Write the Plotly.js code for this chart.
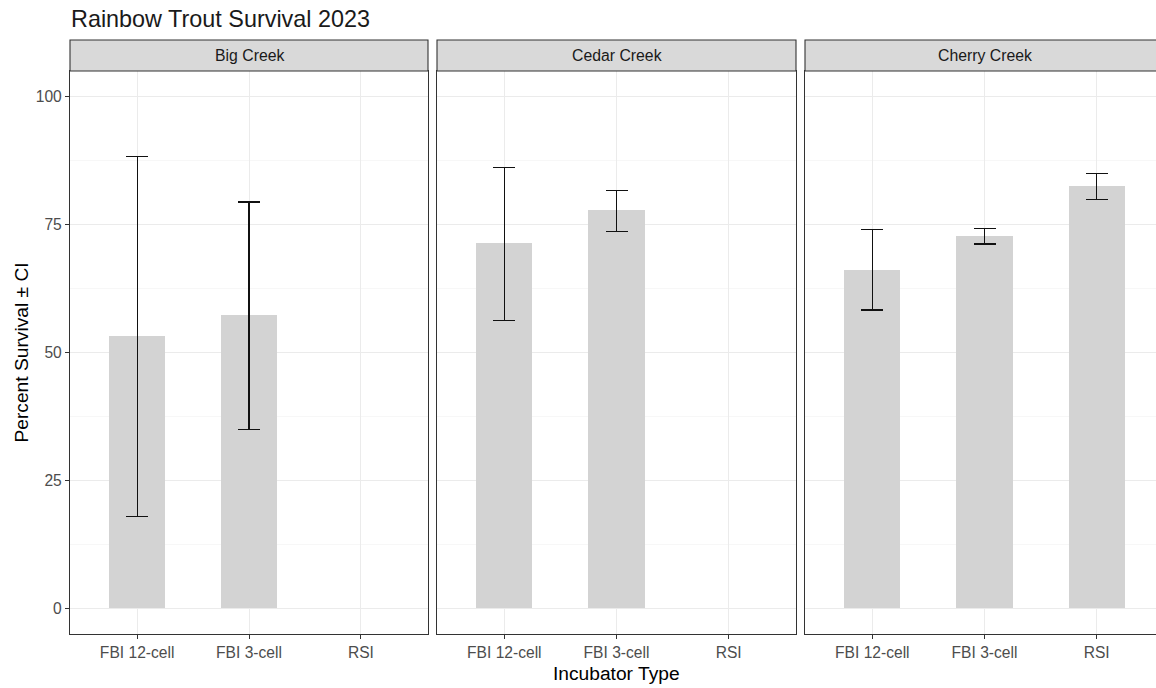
<!DOCTYPE html>
<html>
<head>
<meta charset="utf-8">
<script src="https://cdn.plot.ly/plotly-3.0.1.min.js"></script>
<style>
html,body{margin:0;padding:0;overflow:hidden;background:#fff;}
#chart{width:1166px;height:688px;}
</style>
</head>
<body>
<div id="chart"></div>
<script>
// ---- data ----
const sites = ["Big Creek", "Cedar Creek", "Cherry Creek"];
const incubators = ["FBI 12-cell", "FBI 3-cell", "RSI"];
const bigCreekMean  = [53.2, 57.4, null];
const bigCreekUpper = [88.3, 79.4, null];
const bigCreekLower = [18.0, 35.0, null];
const cedarCreekMean  = [71.3, 77.9, null];
const cedarCreekUpper = [86.1, 81.6, null];
const cedarCreekLower = [56.3, 73.6, null];
const cherryCreekMean  = [66.2, 72.8, 82.5];
const cherryCreekUpper = [74.0, 74.2, 85.0];
const cherryCreekLower = [58.3, 71.2, 79.9];
const yTicks = [0, 25, 50, 75, 100];

const means = [bigCreekMean, cedarCreekMean, cherryCreekMean];
const uppers = [bigCreekUpper, cedarCreekUpper, cherryCreekUpper];
const lowers = [bigCreekLower, cedarCreekLower, cherryCreekLower];

// ---- layout geometry (pixels) ----
const W = 1166, H = 688;
const panelX = [[70, 428], [437, 796], [805, 1164]];
const panelTop = 71, panelBottom = 634, stripTop = 40;
const FONT = "Liberation Sans, Arial, sans-serif";
const TICK_SIZE = 15.6, STRIP_SIZE = 15.8, AXIS_TITLE_SIZE = 19.2, TITLE_SIZE = 23.4;

const traces = [];
sites.forEach((s, i) => {
  const sfx = i === 0 ? "" : String(i + 1);
  const m = means[i];
  traces.push({
    type: "bar",
    x: incubators,
    y: m,
    xaxis: "x" + sfx,
    yaxis: "y" + sfx,
    width: 0.5,
    marker: {color: "#D3D3D3", line: {width: 0}},
    error_y: {
      type: "data",
      symmetric: false,
      array: m.map((v, k) => v == null ? null : uppers[i][k] - v),
      arrayminus: m.map((v, k) => v == null ? null : v - lowers[i][k]),
      color: "#111111",
      thickness: 1.1,
      width: 11
    },
    hoverinfo: "x+y",
    showlegend: false
  });
});

const layout = {
  width: W, height: H,
  margin: {l: 0, r: 0, t: 0, b: 0},
  paper_bgcolor: "#ffffff",
  plot_bgcolor: "#ffffff",
  font: {family: FONT, color: "#000"},
  title: {
    text: "Rainbow Trout Survival 2023",
    font: {family: FONT, size: TITLE_SIZE, color: "#1a1a1a"},
    x: 71 / W, xanchor: "left", xref: "paper",
    y: 1 - 19 / H, yanchor: "middle", yref: "container"
  },
  bargap: 0,
  shapes: [],
  annotations: []
};

const yDomain = [(H - panelBottom) / H, (H - panelTop) / H];
sites.forEach((s, i) => {
  const sfx = i === 0 ? "" : String(i + 1);
  const xd = [panelX[i][0] / W, panelX[i][1] / W];
  layout["xaxis" + sfx] = {
    domain: xd,
    anchor: "y" + sfx,
    type: "category",
    categoryorder: "array",
    categoryarray: incubators,
    range: [-0.6, 2.6],
    showgrid: true, gridcolor: "#EBEBEB", gridwidth: 1,
    showline: true, mirror: true, linecolor: "#333333", linewidth: 1.1,
    ticks: "outside", ticklen: 4, tickcolor: "#333333", tickwidth: 1,
    tickfont: {family: FONT, size: TICK_SIZE, color: "#4D4D4D"},
    zeroline: false, fixedrange: true
  };
  layout["yaxis" + sfx] = {
    domain: yDomain,
    anchor: "x" + sfx,
    range: [-5, 105],
    tickmode: "array",
    tickvals: yTicks,
    ticktext: yTicks.map(String),
    showticklabels: i === 0,
    ticks: i === 0 ? "outside" : "",
    ticklen: 4, tickcolor: "#333333", tickwidth: 1,
    tickfont: {family: FONT, size: TICK_SIZE, color: "#4D4D4D"},
    showgrid: true, gridcolor: "#EBEBEB", gridwidth: 1,
    minor: {tickmode: "array", tickvals: [12.5, 37.5, 62.5, 87.5], showgrid: true, gridcolor: "#F2F2F2", gridwidth: 0.6, ticks: ""},
    showline: true, mirror: true, linecolor: "#333333", linewidth: 1.1,
    zeroline: false, fixedrange: true
  };
  // strip
  layout.shapes.push({
    type: "rect", xref: "paper", yref: "paper",
    x0: xd[0], x1: xd[1],
    y0: (H - panelTop) / H, y1: (H - stripTop) / H,
    fillcolor: "#D9D9D9",
    line: {color: "#333333", width: 1.1},
    layer: "above"
  });
  layout.annotations.push({
    text: s, xref: "paper", yref: "paper",
    x: (xd[0] + xd[1]) / 2, y: (H - (panelTop + stripTop) / 2) / H,
    xanchor: "center", yanchor: "middle", showarrow: false,
    font: {family: FONT, size: STRIP_SIZE, color: "#1A1A1A"}
  });
});

// axis titles
layout.annotations.push({
  text: "Incubator Type", xref: "paper", yref: "paper",
  x: (panelX[1][0] + panelX[1][1]) / 2 / W, y: (H - 673) / H,
  xanchor: "center", yanchor: "middle", showarrow: false,
  font: {family: FONT, size: AXIS_TITLE_SIZE, color: "#000"}
});
layout.annotations.push({
  text: "Percent Survival ± CI", xref: "paper", yref: "paper",
  x: 21 / W, y: (H - (panelTop + panelBottom) / 2) / H,
  xanchor: "center", yanchor: "middle", textangle: -90, showarrow: false,
  font: {family: FONT, size: AXIS_TITLE_SIZE, color: "#000"}
});

Plotly.newPlot("chart", traces, layout, {displayModeBar: false, staticPlot: true});
</script>
</body>
</html>
